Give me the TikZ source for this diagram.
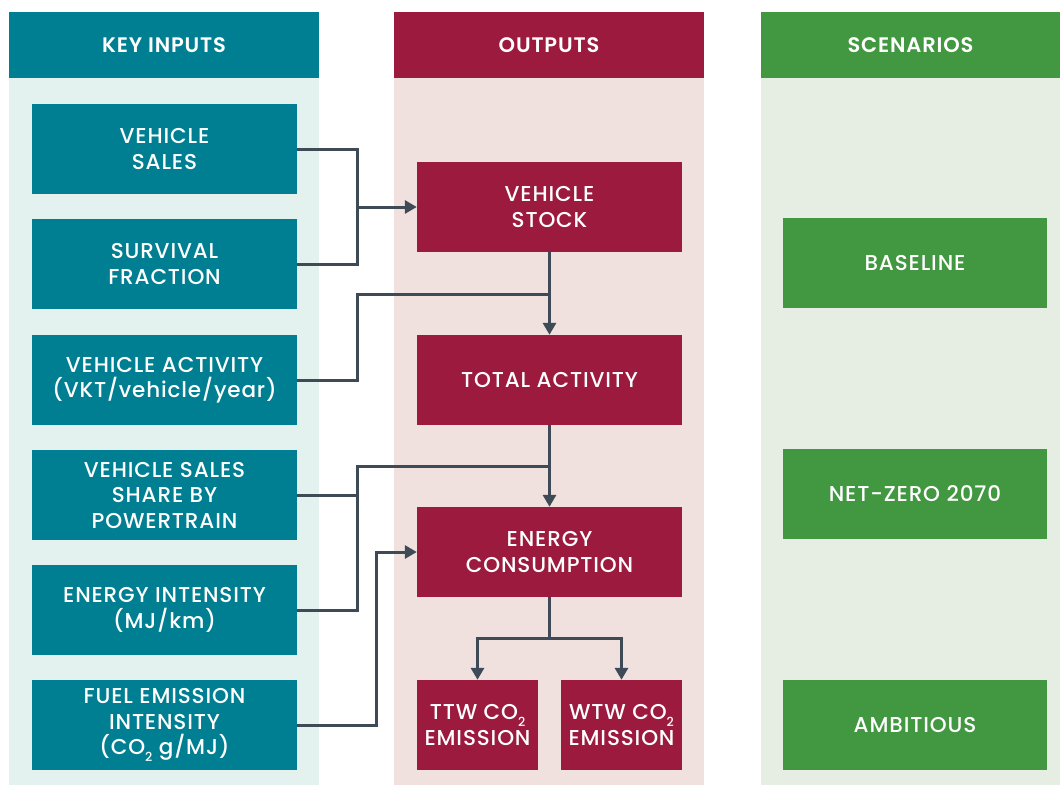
\documentclass[tikz,border=0pt]{standalone}
\usepackage{fontspec}
\setmainfont{Poppins}[UprightFont=* Medium, BoldFont=* SemiBold, LetterSpace=4]
\usetikzlibrary{arrows.meta}
\definecolor{teal}{RGB}{0,127,146}
\definecolor{crim}{RGB}{155,26,61}
\definecolor{grn}{RGB}{66,151,65}
\definecolor{bgteal}{RGB}{228,242,239}
\definecolor{bgpink}{RGB}{240,225,223}
\definecolor{bggrn}{RGB}{230,238,227}
\definecolor{conncol}{RGB}{62,74,85}
\newcommand{\sub}[1]{\raisebox{-0.55ex}{\fontsize{12.5}{12.5}\selectfont #1}}
\tikzset{
  hdr/.style={fill=#1, text=white, minimum height=66pt, inner sep=0pt, font=\fontsize{21}{23}\selectfont\bfseries},
  bx/.style={fill=#1, text=white, minimum height=90pt, inner sep=0pt, align=center, font=\fontsize{21.5}{25.5}\selectfont},
  conn/.style={draw=conncol, line width=3pt},
  arr/.style={conn, -{Triangle[length=12pt,width=13pt]}}
}
\begin{document}
\begin{tikzpicture}[x=1pt,y=-1pt]
\useasboundingbox (0,0) rectangle (1060,785);
% column backgrounds
\fill[bgteal] (9,78) rectangle (319,785);
\fill[bgpink] (394,78) rectangle (704,785);
\fill[bggrn] (761,78) rectangle (1060,785);
% headers
\node[hdr=teal, minimum width=310pt] (hin) at (164,45) {\raisebox{-2pt}{KEY INPUTS}};
\node[hdr=crim, minimum width=310pt] (hout) at (549,45) {\raisebox{-2pt}{OUTPUTS}};
\node[hdr=grn, minimum width=299pt] (hsc) at (910.5,45) {\raisebox{-2pt}{SCENARIOS}};
% inputs
\node[bx=teal, minimum width=265pt] (sales) at (164.5,149) {VEHICLE\\SALES};
\node[bx=teal, minimum width=265pt] (surv) at (164.5,264) {SURVIVAL\\FRACTION};
\node[bx=teal, minimum width=265pt] (vact) at (164.5,380) {VEHICLE ACTIVITY\\(VKT/vehicle/year)};
\node[bx=teal, minimum width=265pt] (share) at (164.5,495) {VEHICLE SALES\\SHARE BY\\POWERTRAIN};
\node[bx=teal, minimum width=265pt] (eint) at (164.5,610) {ENERGY INTENSITY\\(MJ/km)};
\node[bx=teal, minimum width=265pt] (fuel) at (164.5,725) {FUEL EMISSION\\INTENSITY\\(CO\sub{2} g/MJ)};
% outputs
\node[bx=crim, minimum width=265pt] (stock) at (549.5,207) {VEHICLE\\STOCK};
\node[bx=crim, minimum width=265pt] (act) at (549.5,380) {TOTAL ACTIVITY};
\node[bx=crim, minimum width=265pt] (energy) at (549.5,552) {ENERGY\\CONSUMPTION};
\node[bx=crim, minimum width=121pt] (ttw) at (477.5,725) {TTW CO\sub{2}\\EMISSION};
\node[bx=crim, minimum width=121pt] (wtw) at (621.5,725) {WTW CO\sub{2}\\EMISSION};
% scenarios
\node[bx=grn, minimum width=264pt] (base) at (915,263) {BASELINE};
\node[bx=grn, minimum width=264pt] (nz) at (915,494) {NET-ZERO 2070};
\node[bx=grn, minimum width=264pt] (amb) at (915,725) {AMBITIOUS};
% connectors
\coordinate (j1) at (357,207);
\draw[conn] (sales.east) -| (j1);
\draw[conn] (surv.east) -| (j1);
\draw[arr] (j1) -- (stock.west);
\draw[arr] (stock.south) -- (act.north);
\coordinate (j2) at (357,294);
\draw[conn] (vact.east) -| (j2) -- (j2 -| stock.south);
\draw[arr] (act.south) -- (energy.north);
\coordinate (j3) at (357,466);
\draw[conn] (eint.east) -| (j3) -- (j3 -| act.south);
\draw[conn] (share.east) -- (share.east -| j3);
\coordinate (j4) at (376,552);
\draw[arr] (fuel.east) -| (j4) -- (energy.west);
\coordinate (j5) at (549.5,638);
\draw[conn] (energy.south) -- (j5);
\draw[arr] (j5) -| (ttw.north);
\draw[arr] (j5) -| (wtw.north);
\end{tikzpicture}
\end{document}
